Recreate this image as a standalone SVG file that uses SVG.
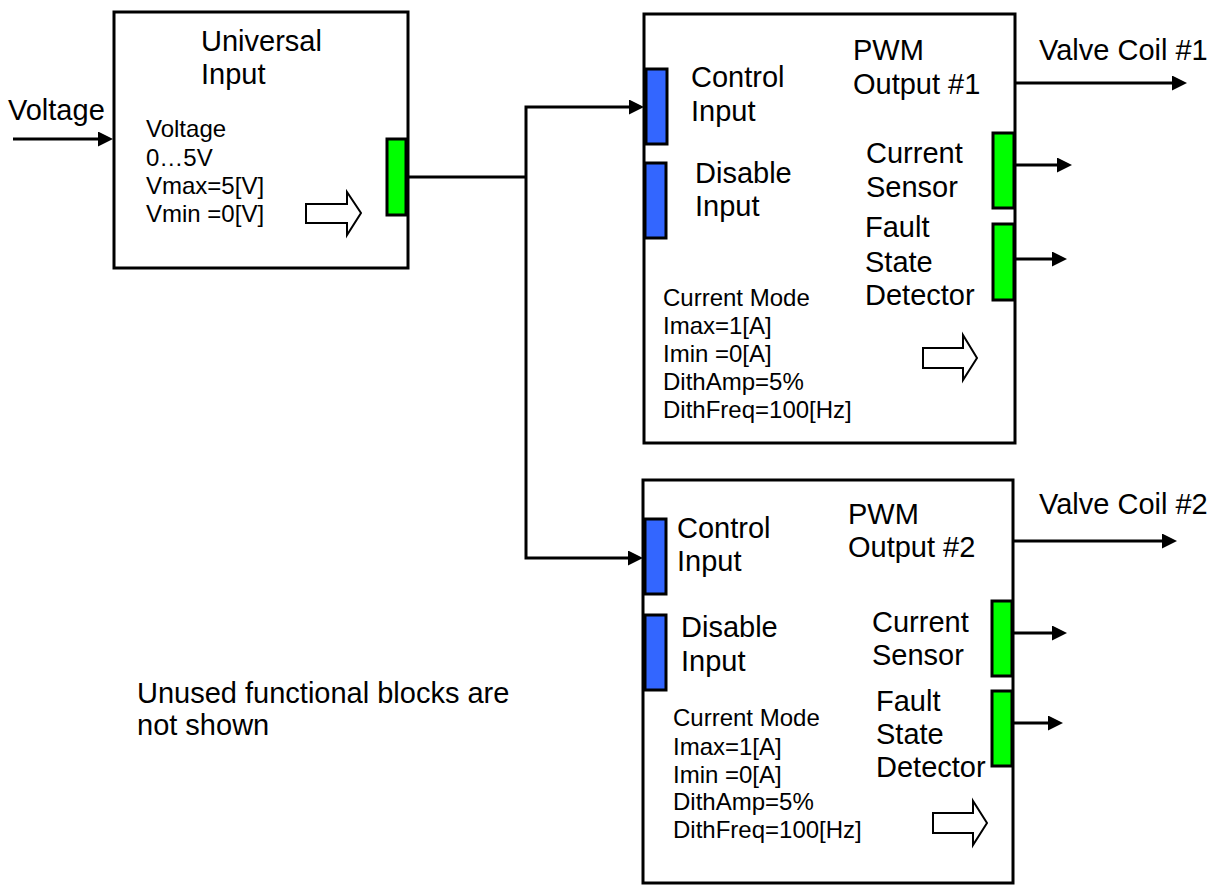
<svg xmlns="http://www.w3.org/2000/svg" width="1215" height="886" viewBox="0 0 1215 886">
<style>
.box{fill:#fff;stroke:#000;stroke-width:3}
.pin{fill:#3366ff;stroke:#000;stroke-width:3}
.pout{fill:#00ff00;stroke:#000;stroke-width:3}
.hol{fill:#fff;stroke:#000;stroke-width:2}
.ln{fill:none;stroke:#000;stroke-width:3}
.big{font-family:"Liberation Sans",Arial,sans-serif;font-size:29px;fill:#000}
.sm{font-family:"Liberation Sans",Arial,sans-serif;font-size:24px;fill:#000}
</style>
<defs>
<marker id="ah" markerWidth="16" markerHeight="16" refX="7" refY="7.5" orient="auto" markerUnits="userSpaceOnUse">
<path d="M0,0 L15,7.5 L0,15 Z" fill="#000"/>
</marker>
</defs>

<g id="universal-input">
<rect class="box" x="114" y="12" width="294" height="256"/>
<text class="big" x="201" y="51">Universal</text>
<text class="big" x="201" y="84">Input</text>
<text class="sm" x="146" y="137">Voltage</text>
<text class="sm" x="146" y="166">0…5V</text>
<text class="sm" x="146" y="194">Vmax=5[V]</text>
<text class="sm" x="146" y="222">Vmin =0[V]</text>
<polygon class="hol" points="306,204 347,204 347,192 361,213 347,235 347,223 306,223"/>
<rect class="pout" x="387" y="139" width="19" height="76"/>
</g>

<g id="pwm-output-1">
<rect class="box" x="644" y="14" width="371" height="429"/>
<rect class="pin" x="646" y="69" width="21" height="75"/>
<rect class="pin" x="645" y="163" width="21" height="75"/>
<rect class="pout" x="993" y="133" width="21" height="75"/>
<rect class="pout" x="993" y="224" width="21" height="76"/>
<text class="big" x="853" y="60">PWM</text>
<text class="big" x="853" y="94">Output #1</text>
<text class="big" x="691" y="87">Control</text>
<text class="big" x="691" y="121">Input</text>
<text class="big" x="695" y="183">Disable</text>
<text class="big" x="695" y="216">Input</text>
<text class="big" x="866" y="163">Current</text>
<text class="big" x="866" y="197">Sensor</text>
<text class="big" x="865" y="237">Fault</text>
<text class="big" x="865" y="272">State</text>
<text class="big" x="865" y="305">Detector</text>
<text class="sm" x="663" y="306">Current Mode</text>
<text class="sm" x="663" y="334">Imax=1[A]</text>
<text class="sm" x="663" y="362">Imin =0[A]</text>
<text class="sm" x="663" y="390">DithAmp=5%</text>
<text class="sm" x="663" y="418">DithFreq=100[Hz]</text>
<polygon class="hol" points="923,348 963,348 963,335 977,358 963,380 963,368 923,368"/>
</g>

<g id="pwm-output-2">
<rect class="box" x="643" y="480" width="370" height="403"/>
<rect class="pin" x="645" y="519" width="21" height="75"/>
<rect class="pin" x="645" y="615" width="21" height="75"/>
<rect class="pout" x="992" y="601" width="20" height="75"/>
<rect class="pout" x="992" y="691" width="20" height="75"/>
<text class="big" x="848" y="524">PWM</text>
<text class="big" x="848" y="557">Output #2</text>
<text class="big" x="677" y="538">Control</text>
<text class="big" x="677" y="571">Input</text>
<text class="big" x="681" y="637">Disable</text>
<text class="big" x="681" y="671">Input</text>
<text class="big" x="872" y="632">Current</text>
<text class="big" x="872" y="665">Sensor</text>
<text class="big" x="876" y="711">Fault</text>
<text class="big" x="876" y="744">State</text>
<text class="big" x="876" y="777">Detector</text>
<text class="sm" x="673" y="726">Current Mode</text>
<text class="sm" x="673" y="755">Imax=1[A]</text>
<text class="sm" x="673" y="783">Imin =0[A]</text>
<text class="sm" x="673" y="810">DithAmp=5%</text>
<text class="sm" x="673" y="838">DithFreq=100[Hz]</text>
<polygon class="hol" points="933,813 973,813 973,801 987,823 973,845 973,833 933,833"/>
</g>

<g id="labels">
<text class="big" x="8" y="120">Voltage</text>
<text class="big" x="1039" y="60">Valve Coil #1</text>
<text class="big" x="1039" y="514">Valve Coil #2</text>
<text class="big" x="137" y="703">Unused functional blocks are</text>
<text class="big" x="137" y="735">not shown</text>
</g>

<g id="connectors">
<line class="ln" x1="13" y1="139" x2="105" y2="139" marker-end="url(#ah)"/>
<polyline class="ln" points="407,177 526,177"/>
<polyline class="ln" points="526,177 526,107 636,107" marker-end="url(#ah)"/>
<polyline class="ln" points="526,177 526,558 635,558" marker-end="url(#ah)"/>
<line class="ln" x1="1015" y1="83" x2="1179" y2="83" marker-end="url(#ah)"/>
<line class="ln" x1="1015" y1="165" x2="1064" y2="165" marker-end="url(#ah)"/>
<line class="ln" x1="1015" y1="259" x2="1059" y2="259" marker-end="url(#ah)"/>
<line class="ln" x1="1013" y1="541" x2="1169" y2="541" marker-end="url(#ah)"/>
<line class="ln" x1="1013" y1="633" x2="1059" y2="633" marker-end="url(#ah)"/>
<line class="ln" x1="1013" y1="723" x2="1055" y2="723" marker-end="url(#ah)"/>
</g>
</svg>
